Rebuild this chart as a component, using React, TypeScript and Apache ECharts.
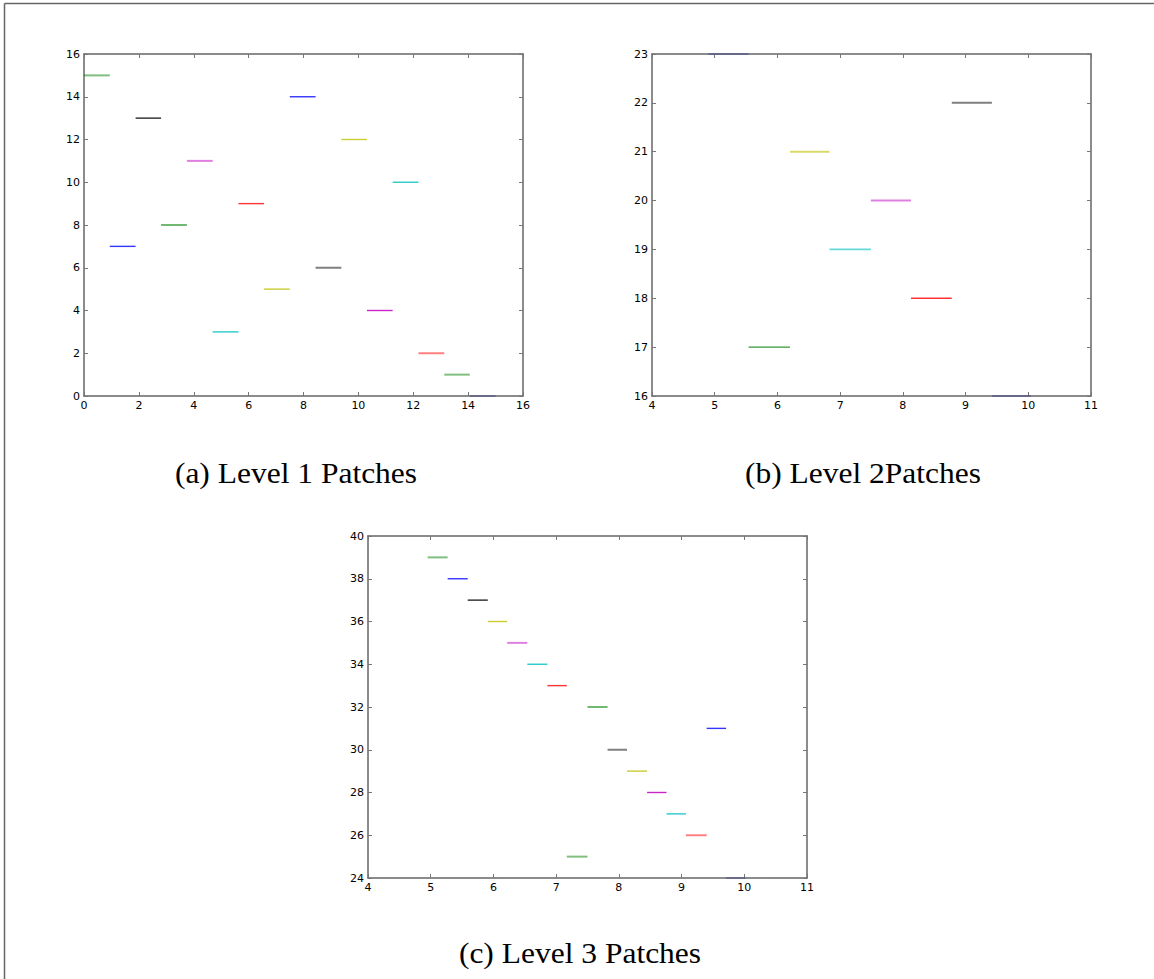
import React, { useEffect, useRef } from "react";
import * as echarts from "echarts";

// ---- Data ----
// Level 1 patches: segment edges (x) and level (y)
const l1Edges = [0, 0.94, 1.88, 2.81, 3.75, 4.69, 5.63, 6.56, 7.5, 8.44, 9.38, 10.31, 11.25, 12.19, 13.13, 14.06, 15.0];
const l1Y = [15, 7, 13, 8, 11, 3, 9, 5, 14, 6, 12, 4, 10, 2, 1, 0];
const l1Colors = ["lg", "b", "k", "g", "lm", "c", "r", "y", "b", "gray", "y", "m", "c", "lr", "lg", "navy"];

// Level 2 patches
const l2Edges = [4.9, 5.54, 6.2, 6.83, 7.49, 8.13, 8.78, 9.42, 10.04];
const l2Y = [23, 17, 21, 19, 20, 18, 22, 16];
const l2Colors = ["navy", "g", "ly", "lc", "lm", "r", "gray", "navy"];

// Level 3 patches
const l3Edges = [4.95, 5.27, 5.59, 5.91, 6.22, 6.54, 6.86, 7.17, 7.5, 7.82, 8.13, 8.45, 8.76, 9.07, 9.4, 9.71, 10.02];
const l3Y = [39, 38, 37, 36, 35, 34, 33, 25, 32, 30, 29, 28, 27, 26, 31, 24];
const l3Colors = ["lg", "b", "k", "y", "lm", "c", "r", "lg", "g", "gray", "y", "m", "c", "lr", "b", "navy"];

// Axes ranges
const axisRanges = [
  { xMin: 0, xMax: 16, xInt: 2, yMin: 0, yMax: 16, yInt: 2 },
  { xMin: 4, xMax: 11, xInt: 1, yMin: 16, yMax: 23, yInt: 1 },
  { xMin: 4, xMax: 11, xInt: 1, yMin: 24, yMax: 40, yInt: 2 },
];

const captions = ["(a) Level 1 Patches", "(b) Level 2Patches", "(c) Level 3 Patches"];

// ---- Styles ----
const palette: Record<string, { color: string; width: number }> = {
  b: { color: "rgba(0,0,255,0.8)", width: 1.4 },
  g: { color: "rgba(0,128,0,0.8)", width: 1.4 },
  lg: { color: "rgba(0,128,0,0.5)", width: 2 },
  k: { color: "rgba(0,0,0,0.85)", width: 1.4 },
  gray: { color: "rgba(0,0,0,0.5)", width: 2 },
  lm: { color: "rgba(191,0,191,0.5)", width: 2 },
  m: { color: "rgba(191,0,191,0.85)", width: 1.4 },
  c: { color: "rgba(0,191,191,0.85)", width: 1.4 },
  lc: { color: "rgba(0,191,191,0.6)", width: 1.8 },
  r: { color: "rgba(255,0,0,0.8)", width: 1.4 },
  lr: { color: "rgba(255,0,0,0.5)", width: 2 },
  y: { color: "rgba(191,191,0,0.8)", width: 1.4 },
  ly: { color: "rgba(191,191,0,0.6)", width: 2 },
  navy: { color: "rgba(0,0,128,0.35)", width: 1.4 },
};

const grids = [
  { left: 84, top: 54, width: 439, height: 342 },
  { left: 652, top: 54, width: 439, height: 342 },
  { left: 368, top: 536, width: 439, height: 342 },
];
const captionPos = [
  { x: 296, y: 473 },
  { x: 863, y: 473 },
  { x: 580, y: 953 },
];

const frameColor = "#666666";

export default function App() {
  const ref = useRef<HTMLDivElement>(null);
  useEffect(() => {
    if (!ref.current) return;
    const chart = echarts.init(ref.current, undefined, { renderer: "svg" });

    const levels = [
      { edges: l1Edges, ys: l1Y, cols: l1Colors },
      { edges: l2Edges, ys: l2Y, cols: l2Colors },
      { edges: l3Edges, ys: l3Y, cols: l3Colors },
    ];

    const xAxes: any[] = [];
    const yAxes: any[] = [];
    const series: any[] = [];
    const axisLine = { show: true, onZero: false, lineStyle: { color: frameColor, width: 1.5 } };
    const axisTick = { show: true, inside: true, length: 4, lineStyle: { color: "#777", width: 1 } };
    const labelStyle = { color: "#000", fontFamily: "DejaVu Sans", fontSize: 11 };

    grids.forEach((g, gi) => {
      const r = axisRanges[gi];
      xAxes.push({
        type: "value", gridIndex: gi, position: "bottom", min: r.xMin, max: r.xMax, interval: r.xInt,
        axisLine, axisTick, splitLine: { show: false },
        axisLabel: { ...labelStyle, margin: 4, showMinLabel: true, showMaxLabel: true },
      });
      xAxes.push({
        type: "value", gridIndex: gi, position: "top", min: r.xMin, max: r.xMax, interval: r.xInt,
        axisLine, axisTick, splitLine: { show: false }, axisLabel: { show: false },
      });
      yAxes.push({
        type: "value", gridIndex: gi, position: "left", min: r.yMin, max: r.yMax, interval: r.yInt,
        axisLine, axisTick, splitLine: { show: false },
        axisLabel: { ...labelStyle, margin: 4, showMinLabel: true, showMaxLabel: true },
      });
      yAxes.push({
        type: "value", gridIndex: gi, position: "right", min: r.yMin, max: r.yMax, interval: r.yInt,
        axisLine, axisTick, splitLine: { show: false }, axisLabel: { show: false },
      });

      const lv = levels[gi];
      lv.ys.forEach((y, i) => {
        const st = palette[lv.cols[i]];
        series.push({
          type: "line",
          xAxisIndex: gi * 2,
          yAxisIndex: gi * 2,
          data: [
            [lv.edges[i], y],
            [lv.edges[i + 1], y],
          ],
          symbol: "none",
          silent: true,
          clip: false,
          lineStyle: { color: st.color, width: st.width, cap: "butt" },
        });
      });
    });

    const graphic: any[] = [
      { type: "line", shape: { x1: 4.5, y1: 3.5, x2: 1154, y2: 3.5 }, style: { stroke: frameColor, lineWidth: 1.5 } },
      { type: "line", shape: { x1: 4.5, y1: 3.5, x2: 4.5, y2: 979 }, style: { stroke: frameColor, lineWidth: 1.5 } },
    ];
    captions.forEach((c, i) => {
      graphic.push({
        type: "text",
        x: captionPos[i].x,
        y: captionPos[i].y,
        scaleX: 1.05,
        style: {
          text: c,
          fill: "#000",
          font: "30px 'Liberation Serif'",
          textAlign: "center",
          textVerticalAlign: "middle",
        },
      });
    });

    chart.setOption({
      animation: false,
      backgroundColor: "#fff",
      grid: grids.map((g) => ({ ...g, containLabel: false })),
      xAxis: xAxes,
      yAxis: yAxes,
      series,
      graphic,
    });
    return () => chart.dispose();
  }, []);
  return (
    <div
      ref={ref}
      style={{ position: "absolute", left: 0, top: 0, width: 1154, height: 979, background: "#fff" }}
    />
  );
}
